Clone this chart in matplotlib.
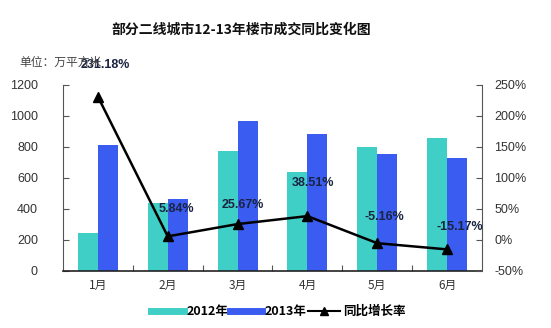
import matplotlib
matplotlib.use("Agg")
import matplotlib.pyplot as plt
from matplotlib.lines import Line2D
import numpy as np

plt.rcParams['font.family'] = ['Noto Sans CJK SC', 'DejaVu Sans']

months = ['1月', '2月', '3月', '4月', '5月', '6月']
sales_2012 = [243, 440, 775, 640, 797, 861]
sales_2013 = [816, 466, 966, 887, 753, 730]
growth = [231.18, 5.84, 25.67, 38.51, -5.16, -15.17]
growth_labels = ['231.18%', '5.84%', '25.67%', '38.51%', '-5.16%', '-15.17%']

c12 = '#3fcfc6'
c13 = '#3a5cf0'
tick_color = '#333333'

fig = plt.figure(figsize=(5.51, 3.28), dpi=100)
ax = fig.add_axes([0.1143, 0.1738, 0.7605, 0.5671])

x = np.arange(len(months))
w = 0.286
ax.bar(x - w / 2, sales_2012, w, color=c12, zorder=2)
ax.bar(x + w / 2, sales_2013, w, color=c13, zorder=2)

ax.set_xlim(-0.5, 5.5)
ax.set_ylim(0, 1200)
ax.set_yticks(range(0, 1201, 200))
ax.set_xticks(np.arange(0.5, 5, 1))
ax.set_xticklabels([])
ax.set_xticks(x, minor=True)
ax.set_xticklabels(months, minor=True)
ax.tick_params(axis='x', which='major', direction='in', length=4, color='#555555')
ax.tick_params(axis='x', which='minor', length=0, pad=6, labelsize=8.5, labelcolor=tick_color)
ax.tick_params(axis='y', direction='in', length=4, pad=18, labelsize=9, labelcolor=tick_color,
               color='#555555')
for lab in ax.get_yticklabels():
    lab.set_family(['Liberation Sans', 'DejaVu Sans'])
ax.spines['top'].set_visible(False)
ax.spines['right'].set_visible(False)
ax.spines['left'].set_color('#555555')
ax.spines['bottom'].set_color('#222222')
ax.spines['bottom'].set_linewidth(1.2)

ax2 = ax.twinx()
ax2.set_ylim(-50, 250)
ax2.set_yticks(range(-50, 251, 50))
ax2.set_yticklabels([f'{v}%' for v in range(-50, 251, 50)],
                    family=['Liberation Sans', 'DejaVu Sans'])
ax2.tick_params(axis='y', direction='in', length=4, pad=9, labelsize=9, labelcolor=tick_color,
                color='#555555')
ax2.spines['top'].set_visible(False)
ax2.spines['left'].set_visible(False)
ax2.spines['bottom'].set_visible(False)
ax2.spines['right'].set_color('#555555')
ax2.plot(x, growth, color='black', lw=1.8, marker='^', markersize=7, zorder=3)

offsets = [(5, 23), (6, 20), (4, 14), (4, 24), (5, 19), (9, 16)]
for xi, g, lab, off in zip(x, growth, growth_labels, offsets):
    ax2.annotate(lab, (xi, g), xytext=off, textcoords='offset points',
                 ha='center', va='center', fontsize=9, fontweight='bold',
                 color='#1a2440', family=['Liberation Sans', 'DejaVu Sans'],
                 annotation_clip=False)

fig.text(0.437, 0.909, '部分二线城市12-13年楼市成交同比变化图', ha='center', va='center',
         fontsize=10, fontweight='bold', color='#111111')
fig.text(0.036, 0.81, '单位：万平方米', ha='left', va='center', fontsize=8.5, color='#444444')

handles = [Line2D([], [], color=c12, lw=5),
           Line2D([], [], color=c13, lw=5),
           Line2D([], [], color='black', lw=1.5, marker='^', markersize=6)]
fig.legend(handles, ['2012年', '2013年', '同比增长率'], loc='center', bbox_to_anchor=(0.505, 0.05),
           ncol=3, frameon=False, handlelength=2.6, handletextpad=0.2, columnspacing=0.1,
           prop={'weight': 'bold', 'size': 9})

fig.savefig('out.png', dpi=100, facecolor='white')
